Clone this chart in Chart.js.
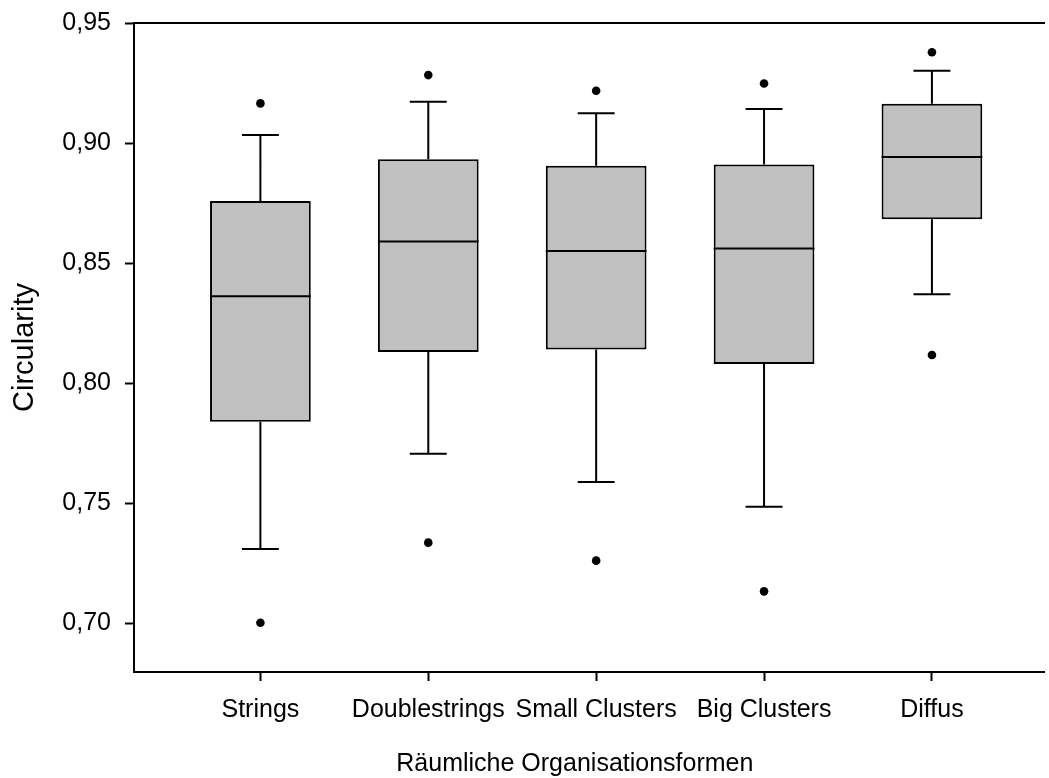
<!DOCTYPE html>
<html>
<head>
<meta charset="utf-8">
<script src="https://cdn.jsdelivr.net/npm/chart.js@4.4.1/dist/chart.umd.min.js"></script>
<style>
  body { margin: 0; background: #fff; }
  #wrap { width: 1049px; height: 778px; position: relative; }
</style>
</head>
<body>
<div id="wrap"><canvas id="chart"></canvas></div>
<script>
// box plot values
var categories = ['Strings', 'Doublestrings', 'Small Clusters', 'Big Clusters', 'Diffus'];
var whiskerLow = [0.7308, 0.7705, 0.7588, 0.7484, 0.8370];
var q1 = [0.7839, 0.8129, 0.8140, 0.8079, 0.8682];
var median = [0.8362, 0.8590, 0.8550, 0.8560, 0.8942];
var q3 = [0.8758, 0.8932, 0.8905, 0.8910, 0.9164];
var whiskerHigh = [0.9033, 0.9172, 0.9124, 0.9142, 0.9301];
var outlierLow = [0.7001, 0.7335, 0.7260, 0.7132, 0.8117];
var outlierHigh = [0.9165, 0.9283, 0.9218, 0.9248, 0.9378];
var yTicks = [0.70, 0.75, 0.80, 0.85, 0.90, 0.95];
var xTitle = 'Räumliche Organisationsformen';
var yTitle = 'Circularity';

var boxHalf = 0.3;   // in category units
var capHalf = 0.11;
var fontFamily = '"Liberation Sans", Arial, sans-serif';

var boxes = [], whiskers = [], caps = [], medians = [], dots = [];
categories.forEach(function (c, i) {
    boxes.push({ x: i, y: [q1[i], q3[i]] });
    whiskers.push({ x: i, y: q3[i] }, { x: i, y: whiskerHigh[i] }, { x: i, y: null },
                  { x: i, y: q1[i] }, { x: i, y: whiskerLow[i] }, { x: i, y: null });
    caps.push({ x: i - capHalf, y: whiskerHigh[i] }, { x: i + capHalf, y: whiskerHigh[i] }, { x: i, y: null },
              { x: i - capHalf, y: whiskerLow[i] }, { x: i + capHalf, y: whiskerLow[i] }, { x: i, y: null });
    medians.push({ x: i - boxHalf, y: median[i] }, { x: i + boxHalf, y: median[i] }, { x: i, y: null });
    dots.push({ x: i, y: outlierHigh[i] }, { x: i, y: outlierLow[i] });
});

Chart.defaults.font.family = fontFamily;
Chart.defaults.color = '#000';

var segLine = {
    type: 'line',
    borderColor: '#000',
    borderWidth: 2,
    pointRadius: 0,
    spanGaps: false,
    fill: false
};

// x title sits centred under the original frame (which ended ~29px before the canvas edge)
var xTitlePlugin = {
    id: 'xTitle',
    afterDraw: function (chart) {
        var ctx = chart.ctx, a = chart.chartArea;
        ctx.save();
        ctx.font = '25px ' + fontFamily;
        ctx.fillStyle = '#000';
        ctx.textAlign = 'center';
        ctx.textBaseline = 'middle';
        ctx.fillText(xTitle, (a.left + a.right - 29) / 2, 764);
        ctx.restore();
    }
};

new Chart(document.getElementById('chart'), {
    type: 'scatter',
    data: {
        datasets: [
            Object.assign({ data: medians, order: 0 }, segLine),
            {
                type: 'bar',
                data: boxes,
                backgroundColor: '#c0c0c0',
                borderColor: '#000',
                borderWidth: 2,
                borderSkipped: false,
                barPercentage: 0.6,
                categoryPercentage: 1,
                order: 1
            },
            Object.assign({ data: whiskers, order: 2 }, segLine),
            Object.assign({ data: caps, order: 2 }, segLine),
            {
                type: 'scatter',
                data: dots,
                pointRadius: 4.3,
                pointBackgroundColor: '#000',
                pointBorderWidth: 0,
                order: 0
            }
        ]
    },
    plugins: [xTitlePlugin],
    options: {
        responsive: true,
        maintainAspectRatio: false,
        animation: false,
        layout: { padding: { top: 23, right: 0, bottom: 0, left: 0 } },
        plugins: { legend: { display: false }, tooltip: { enabled: false } },
        scales: {
            x: {
                type: 'linear',
                position: 'bottom',
                min: -0.7529,
                max: 4.6717,
                offset: false,
                afterBuildTicks: function (scale) {
                    scale.ticks = categories.map(function (c, i) { return { value: i }; });
                },
                afterFit: function (scale) { scale.height = 106; },
                ticks: {
                    autoSkip: false,
                    maxRotation: 0,
                    padding: 14,
                    font: { size: 25 },
                    callback: function (v) { return categories[v]; }
                },
                grid: { drawOnChartArea: false, drawTicks: true, tickLength: 9, tickWidth: 2, tickColor: '#000', offset: false },
                border: { display: true, color: '#000', width: 2 }
            },
            x2: {
                type: 'linear',
                position: 'top',
                min: -0.7529,
                max: 4.6717,
                afterFit: function (scale) { scale.height = 0; },
                ticks: { display: false },
                grid: { display: false },
                border: { display: true, color: '#000', width: 2 }
            },
            y: {
                type: 'linear',
                position: 'left',
                min: 0.6796,
                max: 0.95,
                afterBuildTicks: function (scale) {
                    scale.ticks = yTicks.map(function (v) { return { value: v }; });
                },
                afterFit: function (scale) {
                    scale.width = 134;
                    scale.paddingTop = 0;
                    scale.paddingBottom = 0;
                },
                ticks: {
                    padding: 14,
                    font: { size: 25 },
                    callback: function (v) { return v.toFixed(2).replace('.', ','); }
                },
                grid: { drawOnChartArea: false, drawTicks: true, tickLength: 9, tickWidth: 2, tickColor: '#000' },
                border: { display: true, color: '#000', width: 2 },
                title: {
                    display: true,
                    text: yTitle,
                    font: { size: 29, lineHeight: 1.2 },
                    padding: { top: 8, bottom: 0 }
                }
            }
        }
    }
});
</script>
</body>
</html>
